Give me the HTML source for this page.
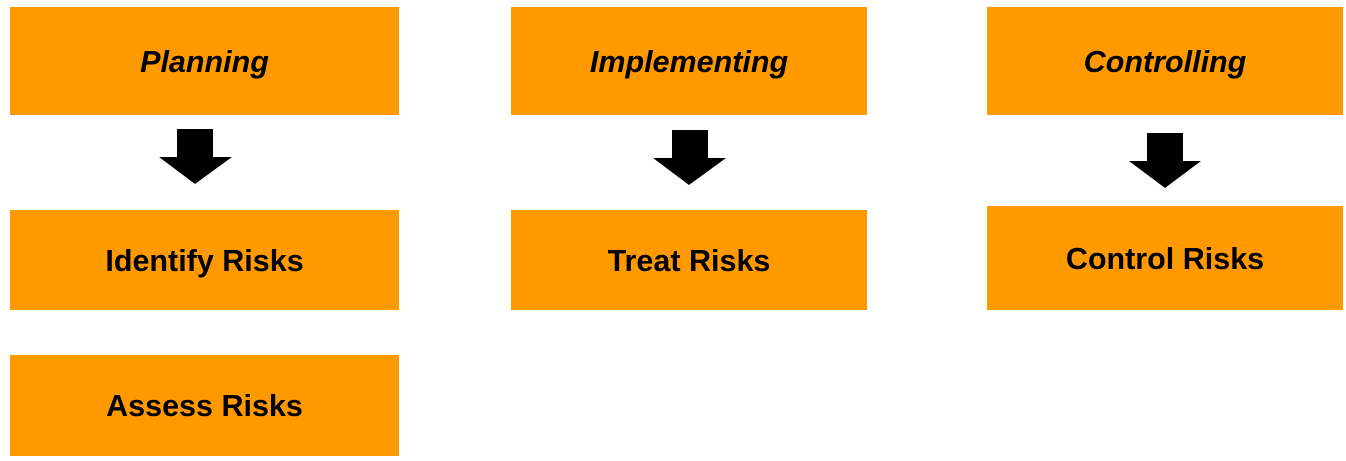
<!DOCTYPE html>
<html><head><style>
body{margin:0;width:1346px;height:461px;background:#fff;position:relative;overflow:hidden;font-family:"Liberation Sans",sans-serif;}
.b{position:absolute;background:#FF9900;display:flex;align-items:center;justify-content:center;font-weight:bold;font-size:30.5px;color:#000;padding-top:2px;box-sizing:border-box;}
.i{font-style:italic;}
svg{position:absolute;left:0;top:0;}
</style></head><body>
<div class="b i" style="left:10px;top:7px;width:389px;height:108px;">Planning</div>
<div class="b i" style="left:511px;top:7px;width:356px;height:108px;">Implementing</div>
<div class="b i" style="left:987px;top:7px;width:356px;height:108px;">Controlling</div>
<div class="b" style="left:10px;top:210px;width:389px;height:100px;">Identify Risks</div>
<div class="b" style="left:511px;top:210px;width:356px;height:100px;">Treat Risks</div>
<div class="b" style="left:987px;top:206px;width:356px;height:104px;">Control Risks</div>
<div class="b" style="left:10px;top:355px;width:389px;height:101px;">Assess Risks</div>
<svg width="1346" height="461">
<polygon points="177,129 213,129 213,157 232,157 195,184 159,157 177,157" fill="#000"/>
<polygon points="672,130 708,130 708,158 726,158 689,185 653,158 672,158" fill="#000"/>
<polygon points="1147,133 1183,133 1183,161 1201,161 1165,188 1129,161 1147,161" fill="#000"/>
</svg>
</body></html>
